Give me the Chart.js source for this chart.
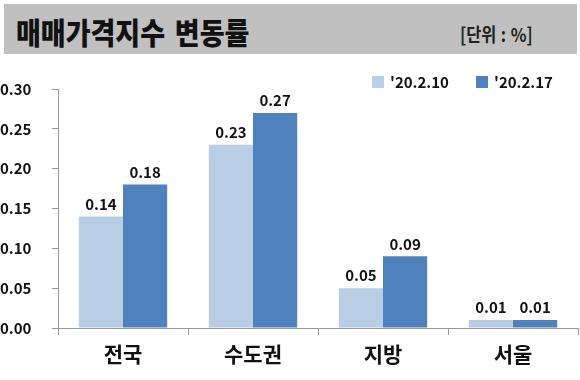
<!DOCTYPE html>
<html><head><meta charset="utf-8">
<script src="https://cdn.jsdelivr.net/npm/chart.js@4/dist/chart.umd.min.js"></script>
<style>
html,body{margin:0;padding:0;background:#fff;}
#wrap{position:relative;width:580px;height:380px;overflow:hidden;}
#bar{position:absolute;left:4px;top:4px;width:573px;height:50px;background:#c0c0c0;}
#title{position:absolute;left:16px;top:8px;height:46px;line-height:46px;font-family:"Noto Sans CJK KR";font-weight:900;font-size:30px;color:#111;transform:scaleX(0.9);transform-origin:left center;white-space:nowrap;letter-spacing:0px;word-spacing:4px;}
#unit{position:absolute;left:460px;top:14px;height:40px;line-height:40px;font-family:"Noto Sans CJK KR";font-weight:700;font-size:19px;color:#222;transform:scaleX(0.86);transform-origin:left center;white-space:nowrap;word-spacing:1px;}
canvas{position:absolute;left:0;top:0;}
</style></head>
<body><div id="wrap"><canvas id="c" width="580" height="380"></canvas>
<div id="bar"></div><div id="title">매매가격지수 변동률</div><div id="unit">[단위 : %]</div></div>
<script>
const categories = ["전국", "수도권", "지방", "서울"];
const seriesNames = ["'20.2.10", "'20.2.17"];
const values0210 = [0.14, 0.23, 0.05, 0.01];
const values0217 = [0.18, 0.27, 0.09, 0.01];
const yTicks = [0.00, 0.05, 0.10, 0.15, 0.20, 0.25, 0.30];
const colors = ["#b9cde5", "#4f81bd"];
const FONT = '"Noto Sans CJK KR", "DejaVu Sans", sans-serif';

const labelPlugin = {
  id: 'labels',
  afterDatasetsDraw(chart) {
    const ctx = chart.ctx;
    ctx.save();
    ctx.font = 'bold 15px ' + FONT;
    ctx.fillStyle = '#111';
    ctx.textAlign = 'center';
    ctx.textBaseline = 'bottom';
    chart.data.datasets.forEach((ds, i) => {
      chart.getDatasetMeta(i).data.forEach((el, j) => {
        ctx.fillText(ds.data[j].toFixed(2), el.x, el.y - 5);
      });
    });
    // legend
    const ca = chart.chartArea;
    ctx.textAlign = 'left';
    ctx.textBaseline = 'middle';
    ctx.font = 'bold 15px ' + FONT;
    let x = ca.right - 206;
    const y = 82;
    chart.data.datasets.forEach((ds) => {
      ctx.fillStyle = ds.backgroundColor;
      ctx.fillRect(x, y - 6, 12, 12);
      ctx.fillStyle = '#111';
      ctx.fillText(ds.label, x + 18, y);
      x += 104;
    });
    ctx.restore();
  }
};

new Chart(document.getElementById('c'), {
  type: 'bar',
  data: {
    labels: categories,
    datasets: [
      { label: seriesNames[0], data: values0210, backgroundColor: colors[0] },
      { label: seriesNames[1], data: values0217, backgroundColor: colors[1] }
    ]
  },
  options: {
    responsive: false,
    animation: false,
    layout: { padding: { top: 89, right: 2, left: 0, bottom: 0 } },
    plugins: { legend: { display: false }, tooltip: { enabled: false }, title: { display: false } },
    datasets: { bar: { categoryPercentage: 0.68, barPercentage: 1.0 } },
    scales: {
      x: {
        grid: { display: true, drawOnChartArea: false, drawTicks: true, tickLength: 7, color: '#999', offset: true },
        border: { color: '#999' },
        ticks: { font: { family: FONT, size: 21, weight: 'bold' }, color: '#111', padding: 6 },
        afterFit(s) { s.height = 52; }
      },
      y: {
        min: 0, max: 0.3,
        afterBuildTicks(s) { s.ticks = yTicks.map(v => ({ value: v })); },
        grid: { display: true, drawOnChartArea: false, drawTicks: true, tickLength: 6, color: '#999' },
        border: { color: '#999' },
        ticks: { font: { family: FONT, size: 15, weight: 'bold' }, color: '#111', crossAlign: 'far', padding: 8,
          callback: v => Number(v).toFixed(2) },
        afterFit(s) { s.width = 58; }
      }
    }
  },
  plugins: [labelPlugin]
});
</script></body></html>
